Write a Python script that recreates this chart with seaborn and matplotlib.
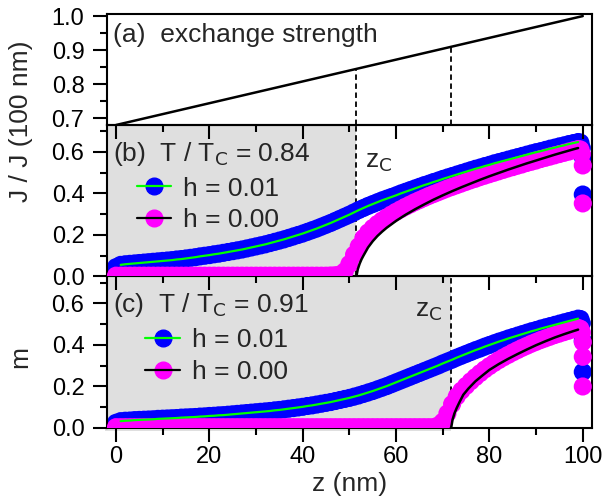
import matplotlib
matplotlib.use("Agg")
import numpy as np
import pandas as pd
import matplotlib.pyplot as plt
import seaborn as sns
from matplotlib.lines import Line2D
from matplotlib.ticker import MultipleLocator

# ---------------- data ----------------
z_grid = list(range(0, 100))

# exchange strength (panel a)
ex_z = [0, 100]
ex_j = [0.68, 1.0]

zc_b = 51.5
zc_c = 71.8

# panel (b) T/Tc = 0.84
b_h01 = [0.045, 0.056, 0.059, 0.061, 0.063, 0.065, 0.067, 0.069, 0.071, 0.073,
         0.075, 0.077, 0.079, 0.082, 0.084, 0.087, 0.090, 0.093, 0.097, 0.100,
         0.103, 0.107, 0.110, 0.114, 0.118, 0.122, 0.126, 0.130, 0.135, 0.140,
         0.145, 0.150, 0.155, 0.161, 0.167, 0.173, 0.179, 0.186, 0.193, 0.200,
         0.207, 0.215, 0.223, 0.231, 0.240, 0.249, 0.258, 0.268, 0.278, 0.288,
         0.298, 0.309, 0.320, 0.330, 0.340, 0.349, 0.358, 0.367, 0.375, 0.383,
         0.391, 0.400, 0.408, 0.416, 0.424, 0.432, 0.440, 0.447, 0.455, 0.462,
         0.470, 0.477, 0.484, 0.491, 0.498, 0.505, 0.512, 0.519, 0.525, 0.532,
         0.538, 0.545, 0.551, 0.557, 0.563, 0.569, 0.575, 0.581, 0.587, 0.593,
         0.599, 0.604, 0.610, 0.616, 0.621, 0.627, 0.632, 0.638, 0.643, 0.648]
b_h01_end_z = [99.5, 99.8, 100.0, 100.0]
b_h01_end = [0.645, 0.620, 0.575, 0.395]

b_h00 = [0.004, 0.004, 0.004, 0.004, 0.004, 0.004, 0.004, 0.004, 0.004, 0.004,
         0.004, 0.004, 0.004, 0.004, 0.004, 0.004, 0.004, 0.004, 0.004, 0.004,
         0.004, 0.004, 0.004, 0.004, 0.004, 0.004, 0.004, 0.004, 0.004, 0.004,
         0.004, 0.004, 0.004, 0.004, 0.004, 0.004, 0.004, 0.004, 0.004, 0.004,
         0.004, 0.004, 0.004, 0.004, 0.004, 0.004, 0.005, 0.006, 0.010, 0.025,
         0.060, 0.105, 0.145, 0.185, 0.212, 0.234, 0.253, 0.270, 0.285, 0.299,
         0.312, 0.324, 0.336, 0.347, 0.358, 0.368, 0.378, 0.388, 0.397, 0.406,
         0.415, 0.424, 0.432, 0.440, 0.448, 0.456, 0.464, 0.471, 0.479, 0.486,
         0.493, 0.500, 0.507, 0.514, 0.521, 0.527, 0.534, 0.540, 0.547, 0.553,
         0.559, 0.566, 0.572, 0.578, 0.584, 0.590, 0.596, 0.602, 0.608, 0.614]
b_h00_end_z = [99.5, 99.8, 100.0, 100.0]
b_h00_end = [0.612, 0.590, 0.535, 0.352]

b_line00_z = [51.5, 51.8, 52.2, 52.6, 53.0, 54, 55, 56, 57, 58, 60, 62, 64, 66, 68,
              70, 72, 74, 76, 78, 80, 82, 84, 86, 88, 90, 92, 94, 96, 98, 99]
b_line00 = [0.0, 0.035, 0.062, 0.083, 0.100, 0.140, 0.170, 0.195, 0.216, 0.235,
            0.268, 0.297, 0.323, 0.347, 0.370, 0.391, 0.411, 0.430, 0.448, 0.466,
            0.483, 0.499, 0.515, 0.530, 0.545, 0.559, 0.573, 0.587, 0.600, 0.613,
            0.619]

# panel (c) T/Tc = 0.91
c_h01 = [0.025, 0.033, 0.035, 0.036, 0.038, 0.039, 0.040, 0.041, 0.042, 0.044,
         0.045, 0.046, 0.047, 0.048, 0.050, 0.051, 0.052, 0.053, 0.055, 0.056,
         0.058, 0.059, 0.061, 0.062, 0.064, 0.066, 0.068, 0.070, 0.072, 0.074,
         0.076, 0.078, 0.080, 0.082, 0.085, 0.087, 0.090, 0.093, 0.096, 0.099,
         0.102, 0.106, 0.109, 0.113, 0.117, 0.121, 0.125, 0.130, 0.135, 0.140,
         0.145, 0.151, 0.157, 0.164, 0.171, 0.178, 0.186, 0.194, 0.202, 0.211,
         0.220, 0.229, 0.238, 0.247, 0.256, 0.265, 0.274, 0.283, 0.292, 0.301,
         0.311, 0.320, 0.329, 0.339, 0.348, 0.357, 0.366, 0.375, 0.383, 0.392,
         0.400, 0.408, 0.416, 0.423, 0.431, 0.438, 0.445, 0.452, 0.459, 0.466,
         0.472, 0.479, 0.485, 0.491, 0.497, 0.503, 0.509, 0.515, 0.521, 0.527]
c_h01_end_z = [99.5, 99.8, 100.0, 100.0]
c_h01_end = [0.525, 0.505, 0.420, 0.270]

c_h00 = [0.004, 0.004, 0.004, 0.004, 0.004, 0.004, 0.004, 0.004, 0.004, 0.004,
         0.004, 0.004, 0.004, 0.004, 0.004, 0.004, 0.004, 0.004, 0.004, 0.004,
         0.004, 0.004, 0.004, 0.004, 0.004, 0.004, 0.004, 0.004, 0.004, 0.004,
         0.004, 0.004, 0.004, 0.004, 0.004, 0.004, 0.004, 0.004, 0.004, 0.004,
         0.004, 0.004, 0.004, 0.004, 0.004, 0.004, 0.004, 0.004, 0.004, 0.004,
         0.004, 0.004, 0.004, 0.004, 0.004, 0.004, 0.004, 0.004, 0.004, 0.004,
         0.004, 0.004, 0.004, 0.004, 0.004, 0.004, 0.004, 0.004, 0.004, 0.012,
         0.030, 0.070, 0.115, 0.152, 0.180, 0.203, 0.225, 0.245, 0.264, 0.282,
         0.298, 0.313, 0.327, 0.340, 0.352, 0.364, 0.375, 0.386, 0.396, 0.406,
         0.415, 0.424, 0.432, 0.440, 0.448, 0.455, 0.462, 0.469, 0.476, 0.482]
c_h00_end_z = [99.5, 99.8, 100.0, 100.0, 100.0]
c_h00_end = [0.478, 0.460, 0.414, 0.343, 0.200]

c_line00_z = [71.8, 72.1, 72.5, 73.0, 73.6, 74.4, 75.5, 77, 78.5, 80, 82, 84, 86,
              88, 90, 92, 94, 96, 98, 99]
c_line00 = [0.0, 0.040, 0.070, 0.097, 0.125, 0.160, 0.190, 0.225, 0.253, 0.280,
            0.308, 0.333, 0.356, 0.378, 0.399, 0.418, 0.436, 0.452, 0.467, 0.474]

labels = ["h = 0.01", "h = 0.00"]

# ---------------- style ----------------
sns.set_theme(style="ticks")
plt.rcParams["font.family"] = ["Liberation Sans", "DejaVu Sans"]
plt.rcParams["mathtext.default"] = "regular"
plt.rcParams["axes.linewidth"] = 1.5

BLUE = "#0000ff"
MAG = "#ff00ff"
GREEN = "#00ff00"
GRAY = "#dfdfdf"
TICK_FS = 17
TXT_FS = 19
S = 170

fig = plt.figure(figsize=(6.02, 4.99), dpi=100)
left, width = 0.1772, 0.8056
ax_a = fig.add_axes([left, 0.7495, width, 0.2224])
ax_b = fig.add_axes([left, 0.4459, width, 0.3036])
ax_c = fig.add_axes([left, 0.1423, width, 0.3036])
ax_a.set_zorder(3)
ax_b.set_zorder(2)
ax_c.set_zorder(1)

xlim = (-2.0, 101.9)

for ax in (ax_a, ax_b, ax_c):
    ax.set_facecolor("none")
    ax.set_xlim(*xlim)
    ax.xaxis.set_major_locator(MultipleLocator(20))
    ax.xaxis.set_minor_locator(MultipleLocator(10))
    ax.tick_params(which="major", direction="out", length=10, width=1.5,
                   labelsize=TICK_FS, color="black", labelcolor="black")
    ax.tick_params(which="minor", direction="out", length=5, width=1.5,
                   color="black")
    ax.tick_params(axis="x", which="major", pad=3)
    ax.tick_params(axis="y", which="major", pad=6)
    for sp in ax.spines.values():
        sp.set_visible(True)
        sp.set_linewidth(1.5)
        sp.set_color("black")

# ---------- panel (a) ----------
ex_df = pd.DataFrame({"z": ex_z, "J": ex_j})
sns.lineplot(data=ex_df, x="z", y="J", ax=ax_a, color="black", lw=1.8,
             estimator=None, sort=False)
ax_a.set_ylim(0.68, 1.006)
ax_a.yaxis.set_major_locator(MultipleLocator(0.1))
ax_a.yaxis.set_minor_locator(MultipleLocator(0.05))
ax_a.yaxis.set_major_formatter(matplotlib.ticker.FormatStrFormatter("%.1f"))
for zc in (zc_b, zc_c):
    jc = float(np.interp(zc, ex_z, ex_j))
    ax_a.vlines(zc, 0.68, jc, colors="black", lw=1.3, linestyles=(0, (3, 2)))
ax_a.tick_params(labelbottom=False)
ax_a.text(0.013, 0.75, "(a)  exchange strength", transform=ax_a.transAxes,
          fontsize=TXT_FS, ha="left", va="baseline")
ax_a.set_xlabel("")
ax_a.set_ylabel("")


def draw_panel(ax, zc, h01, h01_end_z, h01_end, h00, h00_end_z, h00_end,
               line_z, line_v, title, title_y, zc_text_x, zc_text_y, leg_x):
    ax.axvspan(xlim[0], zc, color=GRAY, lw=0, zorder=0)
    ax.axvline(zc, color="black", lw=1.3, ls=(0, (3, 2)), zorder=0.5)
    z_all = z_grid + h01_end_z
    v_all = h01 + h01_end
    sns.scatterplot(x=z_all, y=v_all, ax=ax, color=BLUE, s=S, linewidth=0,
                    edgecolor="none", zorder=2)
    z_all0 = z_grid + h00_end_z
    v_all0 = h00 + h00_end
    sns.scatterplot(x=z_all0, y=v_all0, ax=ax, color=MAG, s=S, linewidth=0,
                    edgecolor="none", zorder=3)
    sns.lineplot(x=z_grid[1:], y=h01[1:], ax=ax, color=GREEN, lw=1.6,
                 estimator=None, sort=False, zorder=4)
    sns.lineplot(x=line_z, y=line_v, ax=ax, color="black", lw=1.8,
                 estimator=None, sort=False, zorder=5)
    ax.set_ylim(0, 0.73)
    ax.yaxis.set_major_locator(MultipleLocator(0.2))
    ax.yaxis.set_minor_locator(MultipleLocator(0.1))
    ax.yaxis.set_major_formatter(matplotlib.ticker.FormatStrFormatter("%.1f"))
    ax.text(0.013, title_y, title, transform=ax.transAxes, fontsize=TXT_FS,
            ha="left", va="baseline")
    ax.text(zc_text_x, zc_text_y, "z$_\\mathrm{C}$",
            transform=ax.get_xaxis_transform(), fontsize=TXT_FS,
            ha="left", va="baseline")
    h1 = (Line2D([], [], ls="none", marker="o", markersize=12,
                 markerfacecolor=BLUE, markeredgecolor=BLUE),
          Line2D([], [], color=GREEN, lw=1.6))
    h2 = (Line2D([], [], ls="none", marker="o", markersize=12,
                 markerfacecolor=MAG, markeredgecolor=MAG),
          Line2D([], [], color="black", lw=1.6))
    ax.legend([h1, h2], labels, loc="upper left", bbox_to_anchor=(leg_x, 0.66),
              frameon=False, fontsize=TXT_FS, borderpad=0, borderaxespad=0,
              handlelength=1.3, handletextpad=0.45, labelspacing=0.3)
    ax.set_xlabel("")
    ax.set_ylabel("")


draw_panel(ax_b, zc_b, b_h01, b_h01_end_z, b_h01_end, b_h00, b_h00_end_z,
           b_h00_end, b_line00_z, b_line00,
           "(b)  T / T$_\\mathrm{C}$ = 0.84", 0.765, 53.4, 0.717, 0.062)
ax_b.tick_params(labelbottom=False)

draw_panel(ax_c, zc_c, c_h01, c_h01_end_z, c_h01_end, c_h00, c_h00_end_z,
           c_h00_end, c_line00_z, c_line00,
           "(c)  T / T$_\\mathrm{C}$ = 0.91", 0.768, 64.1, 0.735, 0.080)
# small gray strip below bottom spine of (c)
ax_c.axvspan(xlim[0] - 0.3, zc_c, ymin=-0.02, ymax=0.0, color=GRAY, lw=0,
             zorder=0, clip_on=False)

fig.text(21 / 602, 1 - 121 / 499, "J / J (100 nm)", rotation=90,
         fontsize=TXT_FS, ha="center", va="center")
fig.text(20 / 602, 1 - 357 / 499, "m", rotation=90, fontsize=TXT_FS,
         ha="center", va="center")
fig.text(350 / 602, 1 - 484 / 499, "z (nm)", fontsize=TXT_FS,
         ha="center", va="center")

fig.savefig("out.png", dpi=100)
